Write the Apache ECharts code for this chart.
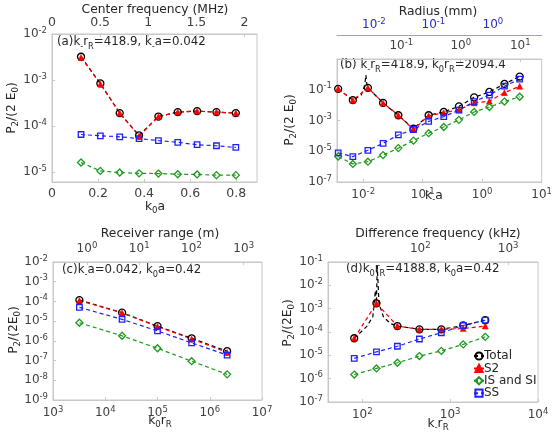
<!DOCTYPE html>
<html><head><meta charset="utf-8">
<script src="https://cdn.jsdelivr.net/npm/echarts@6/dist/echarts.min.js"></script>
<style>html,body{margin:0;padding:0;background:#fff}#c{width:555px;height:442px}</style>
</head><body><div id="c"></div>
<script>
// ---------- DATA ----------
const seriesNames = ['Total', 'S2', 'IS and SI', 'SS'];
// Panel (a): x = k0a (linear)
const aX      = [0.126, 0.21, 0.294, 0.378, 0.462, 0.546, 0.63, 0.714, 0.798];
const aTotal  = [3.2e-3, 8.4e-4, 1.9e-4, 6.2e-5, 1.6e-4, 2.0e-4, 2.1e-4, 2.0e-4, 1.9e-4];
const aS2     = [3.1e-3, 8.2e-4, 1.9e-4, 6.0e-5, 1.6e-4, 2.0e-4, 2.1e-4, 2.0e-4, 1.9e-4];
const aIS     = [1.6e-5, 1.05e-5, 9.7e-6, 9.3e-6, 9.2e-6, 8.9e-6, 8.8e-6, 8.5e-6, 8.5e-6];
const aSS     = [6.5e-5, 6.1e-5, 5.8e-5, 5.3e-5, 4.8e-5, 4.4e-5, 3.9e-5, 3.7e-5, 3.4e-5];
// Panel (b): x = k_a (log)
const bX      = [0.0038, 0.0067, 0.012, 0.0216, 0.039, 0.070, 0.126, 0.226, 0.407, 0.733, 1.32, 2.37, 4.27];
const bTotal  = [0.115, 0.021, 0.133, 0.014, 2.2e-3, 2.9e-4, 2.2e-3, 3.6e-3, 8.3e-3, 0.032, 0.072, 0.24, 0.72];
const bS2     = [0.115, 0.021, 0.133, 0.014, 2.2e-3, 2.6e-4, 2.0e-3, 3.2e-3, 5.0e-3, 0.014, 0.018, 0.065, 0.17];
const bIS     = [4.5e-6, 1.5e-6, 2.1e-6, 5.6e-6, 1.6e-5, 4.9e-5, 1.5e-4, 3.8e-4, 1.1e-3, 3.6e-3, 7.5e-3, 0.017, 0.035];
const bSS     = [7.9e-6, 4.5e-6, 1.15e-5, 3.3e-5, 1.15e-4, 2.6e-4, 8.7e-4, 1.8e-3, 4.7e-3, 0.017, 0.045, 0.17, 0.49];
const bSpikeX = [0.0093, 0.0106, 0.0111, 0.0115];
const bSpikeY = [0.045, 0.2, 0.9, 0.25];
// Panel (c): x = k0 rR (log)
const cX      = [3.2e3, 2.1e4, 1.0e5, 4.5e5, 2.15e6];
const cTotal  = [1.17e-4, 2.7e-5, 5.6e-6, 1.35e-6, 3.0e-7];
const cS2     = [1.12e-4, 2.6e-5, 5.3e-6, 1.25e-6, 2.6e-7];
const cIS     = [8.3e-6, 1.8e-6, 4.2e-7, 9.3e-8, 2.0e-8];
const cSS     = [5.0e-5, 1.23e-5, 3.2e-6, 7.9e-7, 1.9e-7];
// Panel (d): x = k_ rR (log)
const dX      = [81, 145, 251, 447, 794, 1410, 2510];
const dTotal  = [5.4e-5, 1.7e-3, 1.8e-4, 1.3e-4, 1.3e-4, 1.9e-4, 3.2e-4];
const dS2     = [5.4e-5, 1.7e-3, 1.8e-4, 1.3e-4, 1.3e-4, 1.4e-4, 1.8e-4];
const dIS     = [1.5e-6, 2.75e-6, 4.8e-6, 9.3e-6, 1.55e-5, 2.95e-5, 6.2e-5];
const dSS     = [7.4e-6, 1.4e-5, 2.45e-5, 5.0e-5, 9.3e-5, 1.9e-4, 3.2e-4];
const dSpikeX = [112, 132, 141, 148, 155, 174, 209];
const dSpikeY = [1.7e-4, 4.5e-4, 6.0e-3, 7.0e-2, 1.7e-3, 4.5e-4, 2.3e-4];
// tick labels
const aBottomTicks = [0, 0.2, 0.4, 0.6, 0.8];
const aTopTicks    = [0, 0.5, 1, 1.5, 2];
const aYTicks      = [-5, -4, -3, -2];
const bBottomTicks = [-2, -1, 0, 1];
const bTopTicks    = [-1, 0, 1];
const bRadiusTicks = [-2, -1, 0];
const bYTicks      = [-7, -5, -3, -1];
const cBottomTicks = [3, 4, 5, 6, 7];
const cTopTicks    = [0, 1, 2, 3];
const cYTicks      = [-9, -8, -7, -6, -5, -4, -3, -2];
const dBottomTicks = [2, 3, 4];
const dTopTicks    = [2, 3];
const dYTicks      = [-7, -6, -5, -4, -3, -2, -1];

// ---------- STYLE ----------
const FONT = 'DejaVu Sans';
const TXT = '#404040';
const DARK = '#262626';
const BOX = '#c8c8c8';
const colors = {Total: '#000000', S2: '#ff0000', 'IS and SI': '#1f9a1f', SS: '#2020ff'};
const L = Math.log10;

const powRich = {
  b: {fontSize: 12, color: TXT, fontFamily: FONT, lineHeight: 16},
  s: {fontSize: 8.5, color: TXT, fontFamily: FONT, verticalAlign: 'top', lineHeight: 9}
};
const powRichBlue = {
  b: {fontSize: 12, color: '#2a2ad0', fontFamily: FONT, lineHeight: 16},
  s: {fontSize: 8.5, color: '#2a2ad0', fontFamily: FONT, verticalAlign: 'top', lineHeight: 9}
};
const powFmt = v => '{b|10}{s|' + Math.round(v) + '}';

function axis(o) {
  const ax = {
    type: 'value', gridIndex: o.grid, position: o.pos, min: o.min, max: o.max,
    offset: o.offset || 0,
    splitLine: {show: false},
    axisLine: {show: true, onZero: false, lineStyle: {color: o.lineColor || BOX, width: 1}},
    axisTick: {show: true, inside: true, length: 3, customValues: o.ticks, lineStyle: {color: o.lineColor || BOX}},
    axisLabel: {
      customValues: o.ticks, margin: o.margin === undefined ? 5 : o.margin, hideOverlap: false,
      showMinLabel: true, showMaxLabel: true
    }
  };
  if (o.pow) {
    ax.axisLabel.formatter = powFmt;
    ax.axisLabel.rich = o.blue ? powRichBlue : powRich;
  } else {
    ax.axisLabel.formatter = v => String(+v.toFixed(2));
    ax.axisLabel.fontSize = 12.5; ax.axisLabel.color = TXT; ax.axisLabel.fontFamily = FONT;
  }
  return ax;
}

const grids = [
  {left: 52, top: 34, width: 205, height: 148},
  {left: 337, top: 59, width: 205, height: 123},
  {left: 53, top: 262, width: 209, height: 138},
  {left: 328, top: 262, width: 210, height: 140}
].map(g => Object.assign(g, {show: true, borderColor: BOX, borderWidth: 1, containLabel: false}));

const xAxes = [
  axis({grid: 0, pos: 'bottom', min: 0, max: 0.89, ticks: aBottomTicks}),
  axis({grid: 0, pos: 'top', min: 0, max: 2.13, ticks: aTopTicks}),
  axis({grid: 1, pos: 'bottom', min: -2.44, max: 1, ticks: bBottomTicks, pow: true}),
  axis({grid: 1, pos: 'top', min: -2.08, max: 1.36, ticks: bTopTicks, pow: true}),
  axis({grid: 1, pos: 'top', min: -2.62, max: 0.82, ticks: bRadiusTicks, pow: true, blue: true, offset: 24, margin: 2, lineColor: '#9a9af0'}),
  axis({grid: 2, pos: 'bottom', min: 3, max: 7, ticks: cBottomTicks, pow: true}),
  axis({grid: 2, pos: 'top', min: -0.65, max: 3.35, ticks: cTopTicks, pow: true}),
  axis({grid: 3, pos: 'bottom', min: 1.61, max: 4, ticks: dBottomTicks, pow: true}),
  axis({grid: 3, pos: 'top', min: 0.95, max: 3.34, ticks: dTopTicks, pow: true})
];
xAxes[4].axisTick.show = false;
const yAxes = [
  axis({grid: 0, pos: 'left', min: -5.22, max: -2, ticks: aYTicks, pow: true}),
  axis({grid: 1, pos: 'left', min: -7, max: 1, ticks: bYTicks, pow: true}),
  axis({grid: 2, pos: 'left', min: -9, max: -2, ticks: cYTicks, pow: true}),
  axis({grid: 3, pos: 'left', min: -7, max: -1, ticks: dYTicks, pow: true})
];

const symbolOf = {Total: 'circle', S2: 'triangle', 'IS and SI': 'diamond', SS: 'rect'};
const sizeOf = {Total: 7, S2: 6, 'IS and SI': 7, SS: 5.5};
function ser(name, xi, yi, data) {
  const c = colors[name];
  const open = name !== 'S2';
  return {
    type: 'line', name, xAxisIndex: xi, yAxisIndex: yi, data,
    symbol: symbolOf[name], symbolSize: sizeOf[name], showAllSymbol: true,
    itemStyle: open ? {color: 'rgba(255,255,255,0)', borderColor: c, borderWidth: 1.3} : {color: c, borderColor: c, borderWidth: 0.5},
    lineStyle: {color: c, width: 1.2, type: [4, 3]},
    animation: false, silent: true
  };
}
const pts = (xs, ys, logx) => xs.map((x, i) => [logx ? L(x) : x, L(ys[i])]);
function withSpike(xs, ys, sx, sy) {
  const p = xs.map((x, i) => ({value: [L(x), L(ys[i])]}));
  sx.forEach((x, i) => p.push({value: [L(x), L(sy[i])], symbol: 'none'}));
  p.sort((u, v) => u.value[0] - v.value[0]);
  return p;
}

const series = [
  ser('Total', 0, 0, pts(aX, aTotal, false)),
  ser('S2', 0, 0, pts(aX, aS2, false)),
  ser('IS and SI', 0, 0, pts(aX, aIS, false)),
  ser('SS', 0, 0, pts(aX, aSS, false)),
  ser('Total', 2, 1, withSpike(bX, bTotal, bSpikeX, bSpikeY)),
  ser('S2', 2, 1, pts(bX, bS2, true)),
  ser('IS and SI', 2, 1, pts(bX, bIS, true)),
  ser('SS', 2, 1, pts(bX, bSS, true)),
  ser('Total', 5, 2, pts(cX, cTotal, true)),
  ser('S2', 5, 2, pts(cX, cS2, true)),
  ser('IS and SI', 5, 2, pts(cX, cIS, true)),
  ser('SS', 5, 2, pts(cX, cSS, true)),
  ser('Total', 7, 3, withSpike(dX, dTotal, dSpikeX, dSpikeY)),
  ser('S2', 7, 3, pts(dX, dS2, true)),
  ser('IS and SI', 7, 3, pts(dX, dIS, true)),
  ser('SS', 7, 3, pts(dX, dSS, true))
];

function txt(text, x, y, opt) {
  opt = opt || {};
  const fs = opt.fs || 12.3;
  const rich = {
    n: {fontSize: fs, fill: DARK, fontFamily: FONT, lineHeight: fs + 5},
    sub: {fontSize: fs * 0.7, fill: DARK, fontFamily: FONT, verticalAlign: 'bottom', lineHeight: fs * 0.75}
  };
  return {
    type: 'text', x, y, rotation: opt.rot || 0, silent: true,
    style: {text, rich, align: opt.align || 'center', verticalAlign: 'middle', fontSize: fs, fontFamily: FONT, fill: DARK}
  };
}
const graphics = [
  txt('{n|Center frequency (MHz)}', 155, 10),
  txt('{n|k}{sub|0}{n|a}', 155, 207),
  txt('{n|P}{sub|2}{n|/(2 E}{sub|0}{n|)}', 12, 108, {rot: Math.PI / 2}),
  txt('{n|(a)k}{sub|-}{n|r}{sub|R}{n|=418.9, k}{sub|-}{n|a=0.042}', 57, 42, {align: 'left', fs: 11.8}),

  txt('{n|Radius (mm)}', 438, 12),
  txt('{n|k}{sub|-}{n|a}', 434, 196),
  txt('{n|P}{sub|2}{n|/(2 E}{sub|0}{n|)}', 290, 120, {rot: Math.PI / 2}),
  txt('{n|(b) k}{sub|-}{n|r}{sub|R}{n|=418.9, k}{sub|0}{n|r}{sub|R}{n|=2094.4}', 340, 65, {align: 'left', fs: 11.8}),

  txt('{n|Receiver range (m)}', 160, 234),
  txt('{n|k}{sub|0}{n|r}{sub|R}', 160, 421),
  txt('{n|P}{sub|2}{n|/(2E}{sub|0}{n|)}', 14, 330, {rot: Math.PI / 2}),
  txt('{n|(c)k}{sub|-}{n|a=0.042, k}{sub|0}{n|a=0.42}', 62, 270, {align: 'left', fs: 11.8}),

  txt('{n|Difference frequency (kHz)}', 438, 234),
  txt('{n|k}{sub|-}{n|r}{sub|R}', 438, 424),
  txt('{n|P}{sub|2}{n|/(2E}{sub|0}{n|)}', 288, 323, {rot: Math.PI / 2}),
  txt('{n|(d)k}{sub|0}{n|r}{sub|R}{n|=4188.8, k}{sub|0}{n|a=0.42}', 346, 269, {align: 'left', fs: 11.8})
];

const chart = echarts.init(document.getElementById('c'), null, {renderer: 'canvas'});
chart.setOption({
  backgroundColor: '#fff',
  animation: false,
  grid: grids,
  xAxis: xAxes,
  yAxis: yAxes,
  series,
  legend: {
    data: seriesNames, orient: 'vertical', left: 473, top: 350, padding: 0,
    itemWidth: 10, itemHeight: 9, itemGap: 0.4,
    textStyle: {fontSize: 12, lineHeight: 12, color: DARK, fontFamily: FONT, padding: [0, 0, 0, -5]},
    backgroundColor: 'rgba(255,255,255,0)'
  },
  graphic: graphics
});
</script></body></html>
